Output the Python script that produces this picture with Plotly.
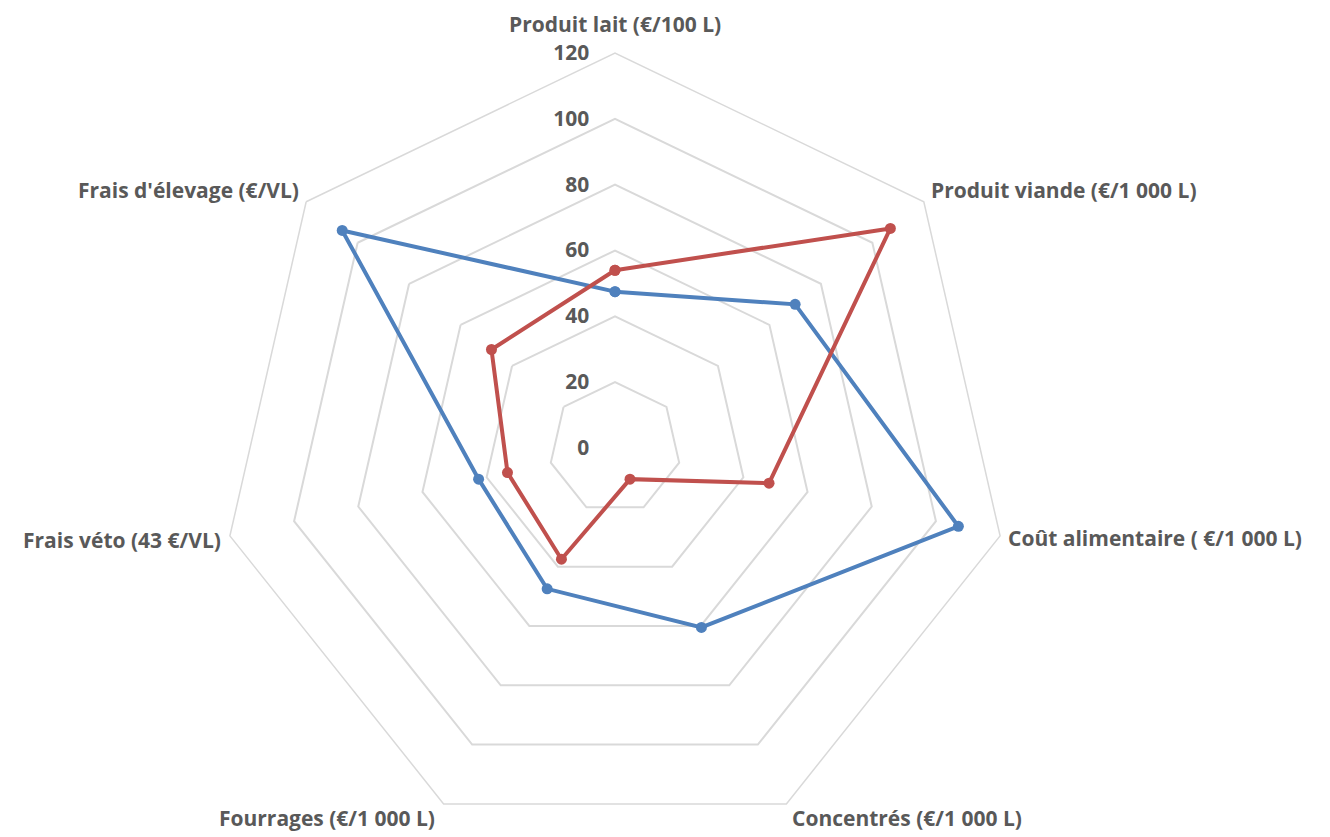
import plotly.graph_objects as go

categories = [
    "Produit lait (€/100 L)",
    "Produit viande (€/1 000 L)",
    "Coût alimentaire ( €/1 000 L)",
    "Concentrés (€/1 000 L)",
    "Fourrages (€/1 000 L)",
    "Frais véto (43 €/VL)",
    "Frais d'élevage (€/VL)",
]
serie_bleue = [47.5, 70, 107, 60.5, 47.5, 42.5, 106]
serie_rouge = [54, 107, 48, 10.5, 37.5, 33.5, 48]
radial_ticks = [0, 20, 40, 60, 80, 100, 120]

BLUE = "#4F81BD"
RED = "#C0504D"
GREY_TXT = "#595959"
GRID = "#D9D9D9"
FONT = "Open Sans"

def closed(vals):
    return list(vals) + [vals[0]]

fig = go.Figure()
for name, vals, col in [("Série 1", serie_bleue, BLUE), ("Série 2", serie_rouge, RED)]:
    fig.add_trace(go.Scatterpolar(
        r=closed(vals),
        theta=closed(categories),
        mode="lines+markers",
        name=name,
        line=dict(color=col, width=4),
        marker=dict(color=col, size=11),
    ))

W, H = 1330, 837
cx, cy_top, R = 607, 440, 395
cy_bottom = H - cy_top

# category label placement (pixel position in the figure, anchor)
label_pos = [
    (607, 16, "center"),
    (922, 182, "left"),
    (999, 530, "left"),
    (899, 810, "center"),
    (319, 810, "center"),
    (214, 532, "right"),
    (292, 182, "right"),
]
annotations = []
for text, (px, py, anchor) in zip(categories, label_pos):
    annotations.append(dict(
        text=text, x=px / W, y=1 - py / H, xref="paper", yref="paper",
        xanchor=anchor, yanchor="middle", showarrow=False, borderpad=0,
        font=dict(family=FONT, size=21, color=GREY_TXT, weight="bold"),
    ))

fig.update_layout(
    width=W, height=H,
    margin=dict(l=0, r=0, t=0, b=0),
    paper_bgcolor="white",
    plot_bgcolor="white",
    showlegend=False,
    font=dict(family=FONT, color=GREY_TXT),
    annotations=annotations,
    polar=dict(
        domain=dict(x=[(cx - R) / W, (cx + R) / W],
                    y=[max(0, (cy_bottom - R) / H), min(1, (cy_bottom + R) / H)]),
        gridshape="linear",
        bgcolor="white",
        radialaxis=dict(
            range=[0, 120],
            tickvals=radial_ticks,
            ticktext=[str(v) for v in radial_ticks],
            angle=90,
            tickangle=90,
            side="counterclockwise",
            showline=False,
            ticks="outside",
            ticklen=18,
            tickcolor="rgba(0,0,0,0)",
            showgrid=True,
            gridcolor=GRID,
            gridwidth=1.5,
            tickfont=dict(family=FONT, size=21, color=GREY_TXT, weight="bold"),
        ),
        angularaxis=dict(
            direction="clockwise",
            rotation=90,
            showgrid=False,
            showline=True,
            linecolor=GRID,
            linewidth=1.5,
            ticks="",
            showticklabels=False,
        ),
    ),
)

fig.write_html("out.html")
